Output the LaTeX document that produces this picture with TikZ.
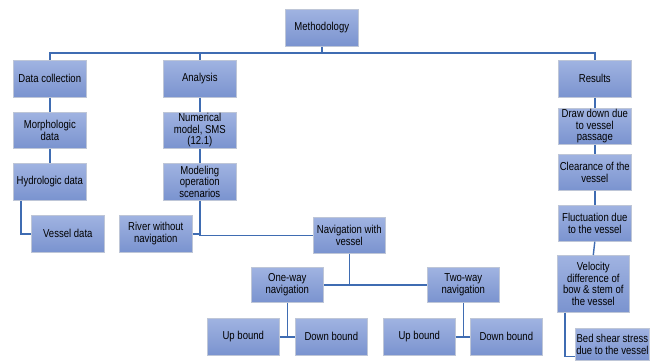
\documentclass[tikz,border=0pt]{standalone}
\usepackage{fontspec}
\setmainfont{Liberation Sans}[FakeStretch=0.83]
\usetikzlibrary{shadows}
\definecolor{boxtop}{RGB}{160,179,225}
\definecolor{boxbot}{RGB}{122,147,207}
\definecolor{boxedge}{RGB}{190,198,215}
\definecolor{linkc}{RGB}{63,108,178}
\begin{document}
\begin{tikzpicture}[x=1pt,y=1pt,
  box/.style={anchor=north west, minimum width=73pt, minimum height=37pt, inner sep=1pt,
    align=center, top color=boxtop, bottom color=boxbot, draw=boxedge, line width=0.6pt,
    font=\fontsize{11.5}{11.6}\selectfont,
    drop shadow={shadow xshift=1pt, shadow yshift=-1pt, opacity=0.25}},
  link/.style={draw=linkc, line width=1.4pt}]
\fill[white] (0,0) rectangle (654,-360);
\useasboundingbox (0,0) rectangle (654,-360);
% nodes
\node[box] (meth) at (285,-9) {Methodology};
\node[box] (dc) at (13,-60) {Data collection};
\node[box] (an) at (163,-60) {Analysis};
\node[box] (res) at (558,-60) {Results};
\node[box, minimum height=36pt] (morph) at (13,-112) {Morphologic\\data};
\node[box, minimum height=36pt] (num) at (163,-112) {Numerical\\model, SMS\\(12.1)};
\node[box] (hyd) at (13,-163) {Hydrologic data};
\node[box] (mod) at (163,-163) {Modeling\\operation\\scenarios};
\node[box] (ves) at (31,-215) {Vessel data};
\node[box] (river) at (119,-215) {River without\\navigation};
\node[box, minimum width=72pt, minimum height=36pt] (nav) at (313,-217) {Navigation with\\vessel};
\node[box, minimum width=72pt, minimum height=35pt] (one) at (251,-267) {One-way\\navigation};
\node[box, minimum width=72pt, minimum height=35pt] (two) at (427,-267) {Two-way\\navigation};
\node[box, minimum width=72pt] (ub1) at (207,-318) {Up bound};
\node[box, minimum width=72pt] (db1) at (295,-318) {Down bound};
\node[box, minimum width=72pt] (ub2) at (383,-318) {Up bound};
\node[box, minimum width=72pt] (db2) at (470,-318) {Down bound};
\node[box, minimum height=35pt] (dd) at (558,-108) {Draw down due\\to vessel\\passage};
\node[box, minimum height=36pt] (clr) at (558,-154) {Clearance of the\\vessel};
\node[box, minimum height=36pt] (flu) at (558,-205) {Fluctuation due\\to the vessel};
\node[box, minimum width=72pt, minimum height=57pt] (vel) at (557,-255) {Velocity\\difference of\\bow \& stem of\\the vessel};
\node[box, minimum height=32pt] (bed) at (575,-328) {Bed shear stress\\due to the vessel};
% connectors
\draw[link] (dc.north) |- (res.north |- 0,-53) -- (res.north);
\draw[link] (an.north) -- (an.north |- 0,-53);
\draw[link] (meth.south) -- (meth.south |- 0,-53);
\draw[link] (dc.south) -- (morph.north);
\draw[link] (morph.south) -- (hyd.north);
\draw[link] (an.south) -- (num.north);
\draw[link] (num.south) -- (mod.north);
\draw[link] ([xshift=8pt]hyd.south west) |- (ves.west);
\draw[link] (river.east) -| (mod.south);
\draw[link] (mod.south) |- (nav.west);
\draw[link] (nav.south) -- (nav.south |- one.east);
\draw[link] (one.east) -- (two.west);
\draw[link] (one.south) -- (one.south |- ub1.east);
\draw[link] (ub1.east) -- (db1.west);
\draw[link] (two.south) -- (two.south |- ub2.east);
\draw[link] (ub2.east) -- (db2.west);
\draw[link] (res.south) -- (dd.north);
\draw[link] (dd.south) -- (clr.north);
\draw[link] (clr.south) -- (flu.north);
\draw[link] (flu.south) -- (vel.north);
\draw[link] ([xshift=8pt]vel.south west) |- ([yshift=-12pt]bed.west);
\end{tikzpicture}
\end{document}
